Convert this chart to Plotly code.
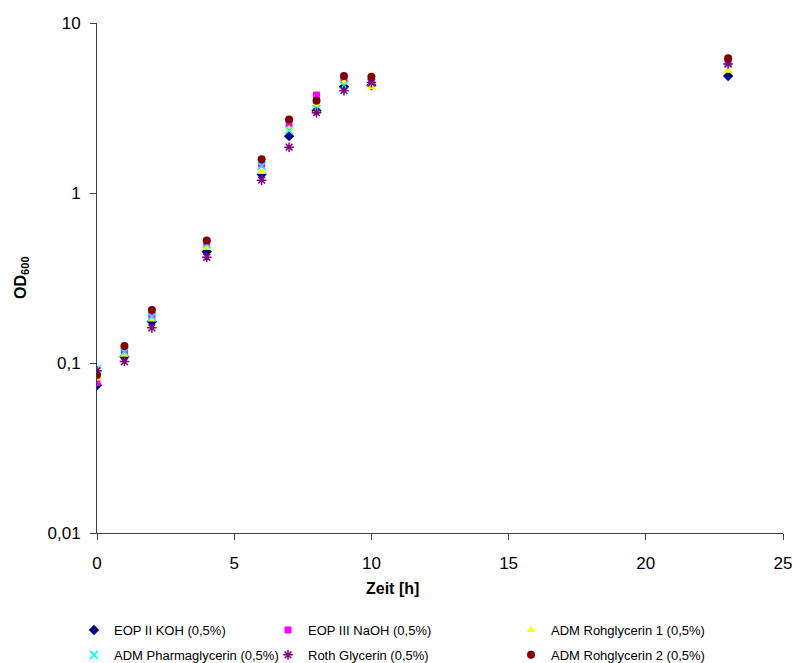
import plotly.graph_objects as go

W, H = 799, 663

zeit = [0, 1, 2, 4, 6, 7, 8, 9, 10, 23]

eop_ii_koh = [0.074, 0.109, 0.175, 0.452, 1.29, 2.16, 3.05, 4.22, 4.30, 4.87]
eop_iii_naoh = [0.077, 0.116, 0.190, 0.510, 1.48, 2.57, 3.77, 4.66, 4.50, 5.85]
adm_roh1 = [0.081, 0.112, 0.180, 0.475, 1.33, 2.38, 3.27, 4.46, 4.19, 5.24]
adm_pharma = [0.092, 0.116, 0.187, 0.500, 1.44, 2.34, 3.12, 4.30, 4.45, 5.80]
roth = [0.090, 0.102, 0.161, 0.419, 1.19, 1.86, 2.97, 4.00, 4.46, 5.74]
adm_roh2 = [0.085, 0.126, 0.205, 0.525, 1.58, 2.71, 3.49, 4.87, 4.83, 6.20]

y_tickvals = [0.01, 0.1, 1, 10]
y_ticktext = ["0,01", "0,1", "1", "10"]
x_tickvals = [0, 5, 10, 15, 20, 25]

series = [
    ("EOP II KOH (0,5%)", eop_ii_koh, "diamond", "#000080", 8, "legend"),
    ("EOP III NaOH (0,5%)", eop_iii_naoh, "square", "#FF00FF", 7, "legend2"),
    ("ADM Rohglycerin 1 (0,5%)", adm_roh1, "triangle-up", "#FFFF00", 8, "legend3"),
    ("ADM Pharmaglycerin (0,5%)", adm_pharma, "x-thin-open", "#00FFFF", 8, "legend"),
    ("Roth Glycerin (0,5%)", roth, "asterisk-open", "#800080", 8, "legend2"),
    ("ADM Rohglycerin 2 (0,5%)", adm_roh2, "circle", "#800000", 8, "legend3"),
]

fig = go.Figure()
for i, (name, vals, sym, col, sz, lg) in enumerate(series):
    fig.add_trace(go.Scatter(
        x=zeit, y=vals, mode="markers", name=name,
        legend=lg, legendgroup=f"g{i}",
        marker=dict(symbol=sym, color=col, size=sz,
                    line=dict(color=col, width=1.5 if "open" in sym else 0)),
    ))

font_family = "Liberation Sans, Arial, sans-serif"

def legend_at(px_x, px_y):
    return dict(
        x=px_x / W, y=1 - px_y / H, xref="container", yref="container",
        xanchor="left", yanchor="top", orientation="v",
        traceorder="grouped", tracegroupgap=5,
        font=dict(family=font_family, size=13, color="black"),
        bgcolor="rgba(0,0,0,0)", borderwidth=0, itemwidth=30,
    )

fig.update_layout(
    width=W, height=H,
    margin=dict(l=97, r=16, t=23, b=130, autoexpand=False),
    paper_bgcolor="white", plot_bgcolor="white",
    font=dict(family=font_family, size=17, color="black"),
    legend=legend_at(74, 615),
    legend2=legend_at(268, 615),
    legend3=legend_at(511, 615),
    xaxis=dict(
        range=[0, 25], tickvals=x_tickvals, ticks="outside", ticklen=6,
        tickcolor="#404040", showline=True, linecolor="#404040", linewidth=1,
        showgrid=False, zeroline=False, tickfont=dict(size=17),
        ticklabelstandoff=9,
    ),
    yaxis=dict(
        type="log", range=[-2, 1], tickvals=y_tickvals, ticktext=y_ticktext,
        ticks="outside", ticklen=6, tickcolor="#404040", showline=True,
        linecolor="#404040", linewidth=1, showgrid=False, zeroline=False,
        tickfont=dict(size=17), ticklabelstandoff=6,
    ),
    annotations=[
        dict(
            text="<b>Zeit [h]</b>", xref="paper", yref="paper",
            x=(392 - 97) / 686, y=-(588 - 533) / 510, xanchor="center", yanchor="middle",
            showarrow=False, font=dict(size=16, family=font_family),
        ),
        dict(
            text="<b>OD<sub>600</sub></b>", xref="paper", yref="paper",
            x=(21 - 97) / 686, y=(533 - 278) / 510, xanchor="center", yanchor="middle",
            textangle=-90, showarrow=False, font=dict(size=16, family=font_family),
        ),
    ],
)

fig.write_html("out.html", config={"displayModeBar": False},
               post_script="document.body.style.margin='0px';")
